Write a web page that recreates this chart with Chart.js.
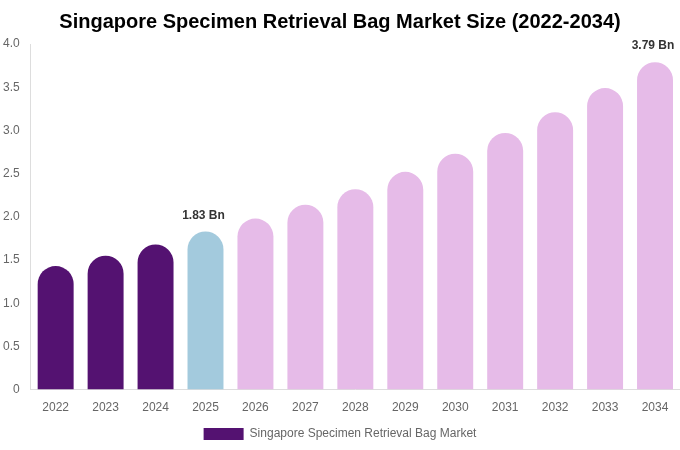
<!DOCTYPE html>
<html>
<head>
<meta charset="utf-8">
<script src="https://cdn.jsdelivr.net/npm/chart.js@4.4.1/dist/chart.umd.min.js"></script>
<style>
	html, body { margin: 0; padding: 0; background: #fff; }
	#wrap { width: 680px; height: 450px; position: relative; }
</style>
</head>
<body>
<div id="wrap"><canvas id="marketChart"></canvas></div>
<script>
const years = ['2022', '2023', '2024', '2025', '2026', '2027', '2028', '2029', '2030', '2031', '2032', '2033', '2034'];
const marketSize = [1.43, 1.55, 1.68, 1.83, 1.98, 2.14, 2.32, 2.52, 2.73, 2.97, 3.21, 3.49, 3.79];
const labelledYears = ['2025', '2034'];
const seriesName = 'Singapore Specimen Retrieval Bag Market';

const barColors = years.map((y) => {
	if (y < '2025') return '#541271';
	if (y === '2025') return '#A3CADD';
	return '#E6BBE8';
});

// Value labels above selected bars
const valueLabels = {
	id: 'valueLabels',
	afterDatasetsDraw(chart) {
		const ctx = chart.ctx;
		const meta = chart.getDatasetMeta(0);
		ctx.save();
		ctx.font = 'bold 12px "Liberation Sans", Arial, sans-serif';
		ctx.fillStyle = '#333';
		ctx.textAlign = 'center';
		ctx.textBaseline = 'bottom';
		years.forEach((y, i) => {
			if (!labelledYears.includes(y)) return;
			const bar = meta.data[i];
			ctx.fillText(marketSize[i].toFixed(2) + ' Bn', bar.x - 2, bar.y - 10);
		});
		ctx.restore();
	},
};

new Chart(document.getElementById('marketChart'), {
	type: 'bar',
	data: {
		labels: years,
		datasets: [
			{
				label: seriesName,
				data: marketSize,
				backgroundColor: barColors,
				borderRadius: { topLeft: 20, topRight: 20 },
				borderSkipped: 'bottom',
			},
		],
	},
	options: {
		responsive: true,
		maintainAspectRatio: false,
		animation: false,
		layout: { padding: { left: 0, right: 0, top: 0, bottom: 0 } },
		plugins: {
			title: {
				display: true,
				text: 'Singapore Specimen Retrieval Bag Market Size (2022-2034)',
				color: '#000',
				font: { size: 20, weight: 'bold', family: '"Liberation Sans", Arial, sans-serif' },
				padding: { top: 10, bottom: 10 },
			},
			legend: {
				position: 'bottom',
				labels: {
					color: '#666',
					boxWidth: 40,
					boxHeight: 12,
					font: { size: 12, family: '"Liberation Sans", Arial, sans-serif' },
					generateLabels: () => [
						{ text: seriesName, fillStyle: '#541271', strokeStyle: '#541271', lineWidth: 0, fontColor: '#666' },
					],
				},
			},
			tooltip: { enabled: false },
		},
		scales: {
			x: {
				grid: { display: false },
				border: { display: true, color: '#ddd' },
				ticks: { color: '#666', font: { size: 12, family: '"Liberation Sans", Arial, sans-serif' } },
			},
			y: {
				min: 0,
				max: 4,
				grid: { display: false },
				border: { display: true, color: '#ddd' },
				ticks: {
					stepSize: 0.5,
					color: '#666',
					font: { size: 12, family: '"Liberation Sans", Arial, sans-serif' },
					callback: (v) => (v === 0 ? '0' : v.toFixed(1)),
				},
			},
		},
	},
	plugins: [valueLabels],
});
</script>
</body>
</html>
